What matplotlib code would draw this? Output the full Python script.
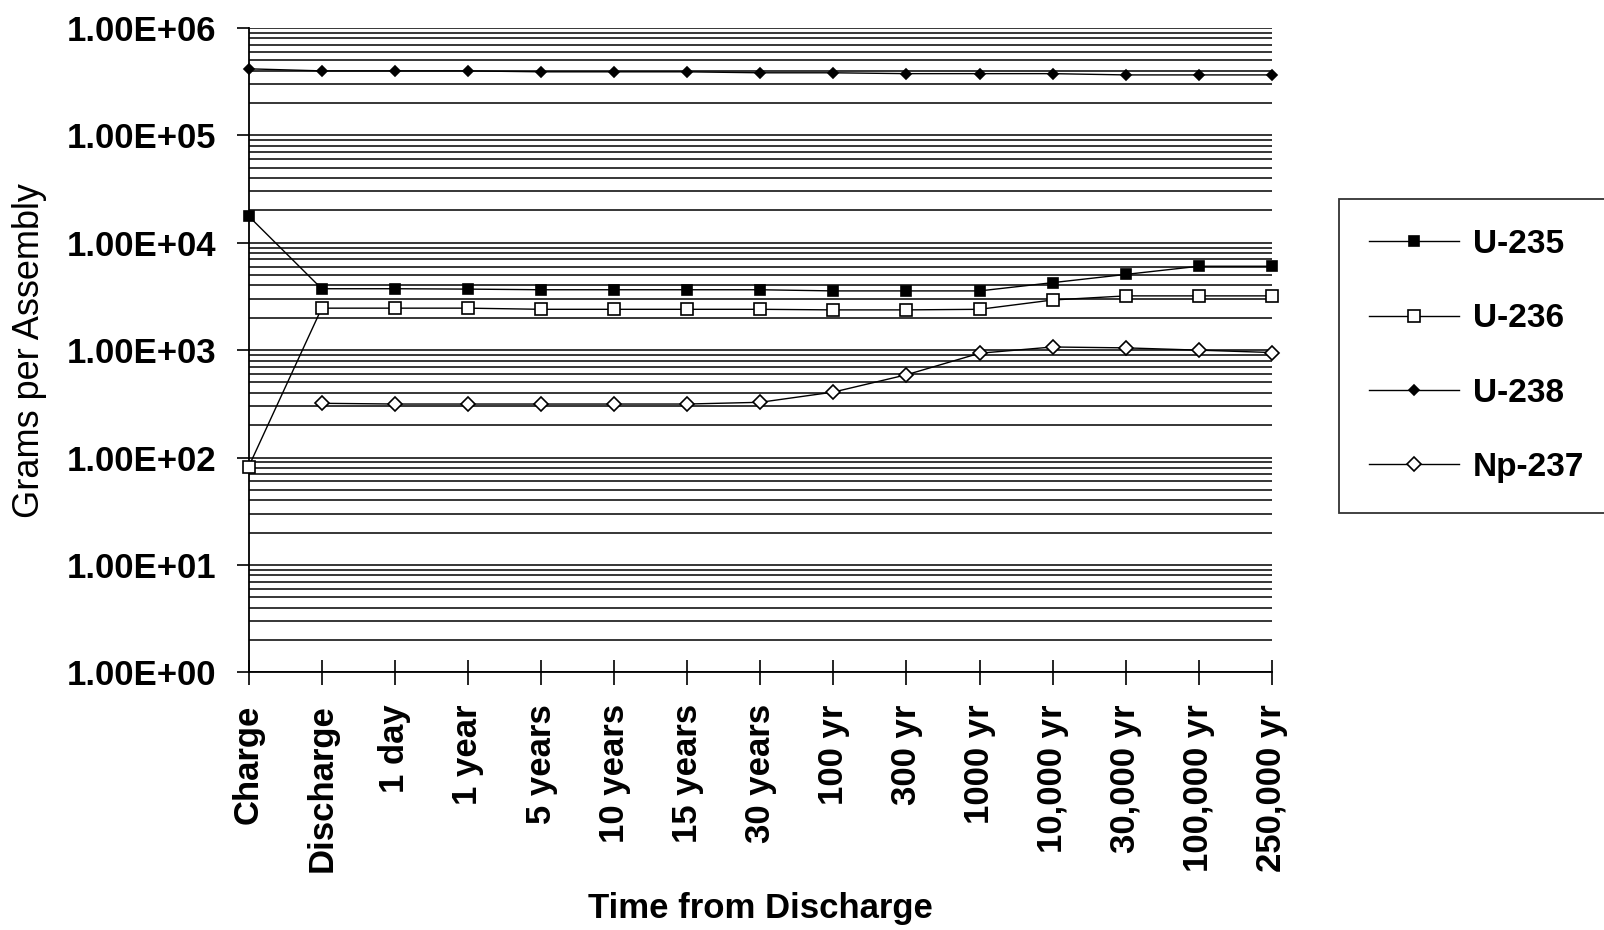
import numpy as np
import matplotlib
matplotlib.use("Agg")
import matplotlib.pyplot as plt
from matplotlib.ticker import FuncFormatter, LogLocator

categories = ["Charge", "Discharge", "1 day", "1 year", "5 years", "10 years",
              "15 years", "30 years", "100 yr", "300 yr", "1000 yr",
              "10,000 yr", "30,000 yr", "100,000 yr", "250,000 yr"]

u235 = [17700, 3730, 3730, 3700, 3650, 3650, 3650, 3650, 3560, 3560, 3560,
        4250, 5070, 6040, 6040]
u236 = [82, 2460, 2460, 2460, 2400, 2400, 2400, 2400, 2370, 2370, 2400,
        2930, 3200, 3200, 3200]
u238 = [416000, 398000, 398000, 398000, 390000, 390000, 390000, 382000,
        382000, 375000, 375000, 375000, 365000, 365000, 365000]
np237 = [np.nan, 320, 315, 315, 315, 315, 315, 327, 407, 590, 936,
         1070, 1050, 1000, 950]

series = [
    ("U-235", u235, "s", 7, "black"),
    ("U-236", u236, "s", 9, "white"),
    ("U-238", u238, "D", 5, "black"),
    ("Np-237", np237, "D", 7, "white"),
]

fig = plt.figure(figsize=(16.04, 9.30), dpi=100)
ax = fig.add_axes([0.155, 0.277, 0.638, 0.693])

x = np.arange(len(categories))
for name, vals, mk, ms, fc in series:
    ax.plot(x, vals, color="black", linewidth=1.0, marker=mk, markersize=ms,
            markerfacecolor=fc, markeredgecolor="black", markeredgewidth=1.2,
            label=name, clip_on=False, zorder=3)

ax.set_yscale("log")
ax.set_ylim(1, 1e6)
ax.set_xlim(0, len(categories) - 1)
ax.yaxis.set_major_locator(LogLocator(base=10, numticks=10))
ax.yaxis.set_minor_locator(LogLocator(base=10, subs=np.arange(2, 10), numticks=20))
ax.yaxis.set_major_formatter(FuncFormatter(lambda v, p: f"{v:.2E}"))
ax.yaxis.set_minor_formatter(FuncFormatter(lambda v, p: ""))
ax.grid(True, which="both", axis="y", color="black", linewidth=1.1)
ax.set_axisbelow(True)

ax.set_xticks(x)
ax.set_xticklabels(categories, rotation=90, fontsize=25, fontweight="bold",
                   family="Liberation Sans")
for lab in ax.get_yticklabels():
    lab.set_fontsize(25)
    lab.set_fontweight("bold")
    lab.set_family("Liberation Sans")

ax.tick_params(axis="y", which="major", direction="out", length=9, width=1.2, pad=14)
ax.tick_params(axis="y", which="minor", length=0)
ax.tick_params(axis="x", direction="inout", length=18, width=1.2, pad=14)

for s in ["top", "right"]:
    ax.spines[s].set_visible(False)
for s in ["left", "bottom"]:
    ax.spines[s].set_linewidth(1.3)

ax.set_ylabel("Grams per Assembly", fontsize=26, family="Liberation Sans")
ax.yaxis.set_label_coords(-0.197, 0.5)
ax.set_xlabel("Time from Discharge", fontsize=25, fontweight="bold",
              family="Liberation Sans", labelpad=14)

leg = fig.legend(loc="upper left", bbox_to_anchor=(0.835, 0.786),
                 prop={"family": "Liberation Sans", "weight": "bold", "size": 24},
                 frameon=True, fancybox=False, edgecolor="black",
                 handlelength=2.7, labelspacing=1.3, borderpad=0.9,
                 handletextpad=0.4, borderaxespad=0)
leg.get_frame().set_linewidth(1.3)

fig.savefig("out.png", dpi=100)
